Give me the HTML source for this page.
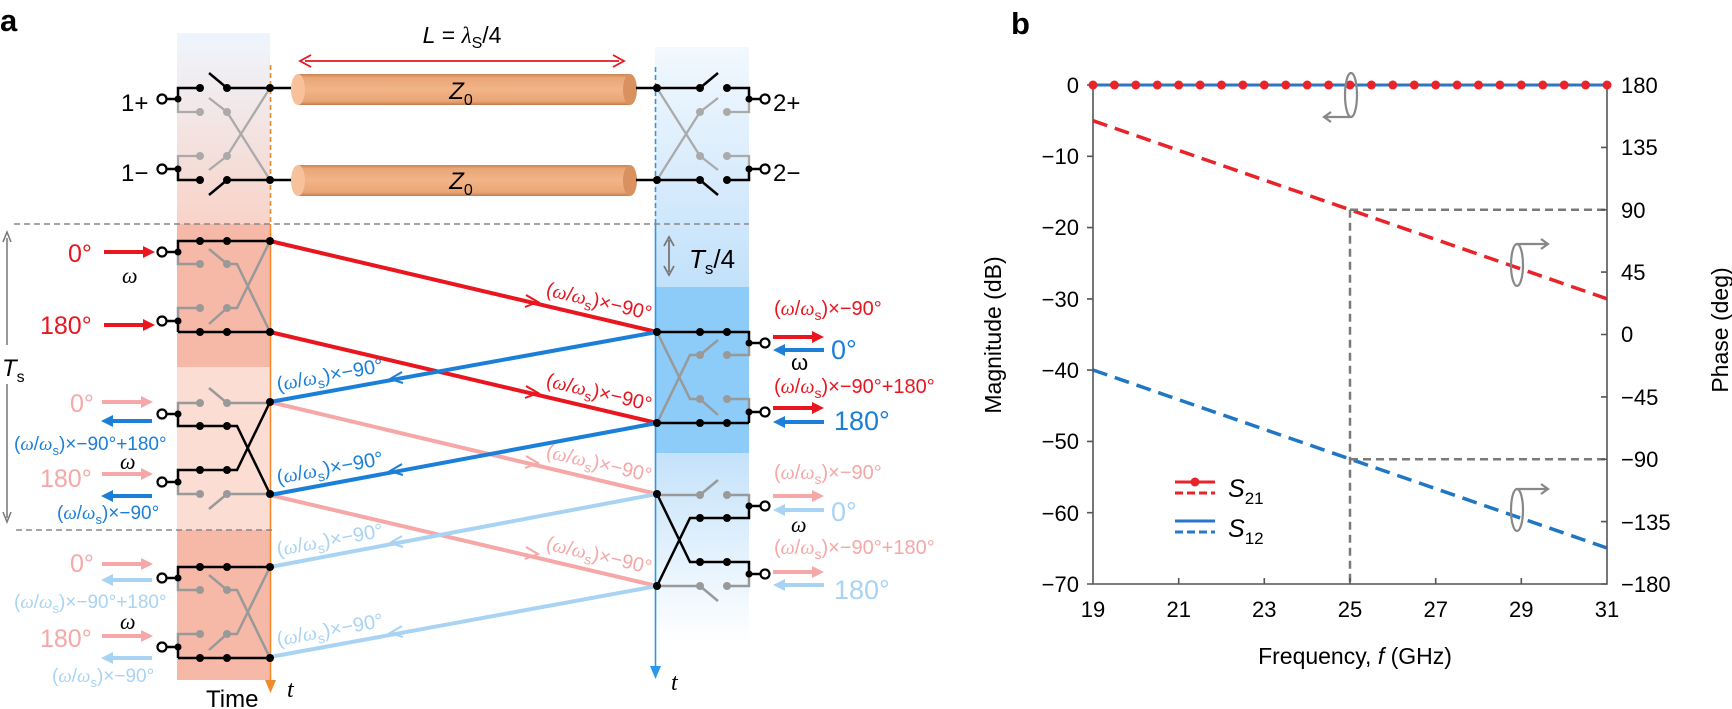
<!DOCTYPE html>
<html><head><meta charset="utf-8"><style>
html,body{margin:0;padding:0;background:#fff}
svg{display:block}
text{font-family:"Liberation Sans",sans-serif}
.w{font-family:"Liberation Serif",serif;font-style:italic}
</style></head><body>
<svg width="1732" height="709" viewBox="0 0 1732 709" xmlns="http://www.w3.org/2000/svg">
<defs>
<linearGradient id="gl" x1="0" y1="0" x2="0" y2="1"><stop offset="0" stop-color="#eef5fd"/><stop offset="1" stop-color="#f8d3c8"/></linearGradient>
<linearGradient id="gr1" x1="0" y1="0" x2="0" y2="1"><stop offset="0" stop-color="#f2f8fe"/><stop offset="1" stop-color="#c2e1fa"/></linearGradient>
<linearGradient id="gr2" x1="0" y1="0" x2="0" y2="1"><stop offset="0" stop-color="#c4e2fa"/><stop offset="1" stop-color="#ffffff"/></linearGradient>
<linearGradient id="cyl" x1="0" y1="0" x2="0" y2="1"><stop offset="0" stop-color="#c98456"/><stop offset="0.12" stop-color="#eaa677"/><stop offset="0.5" stop-color="#f2b487"/><stop offset="0.88" stop-color="#e9a574"/><stop offset="1" stop-color="#c07c50"/></linearGradient>
<g id="thr">
 <path d="M166,11H178V0H270M178,91V80H166M178,91H270" fill="none" stroke="#000" stroke-width="2.5"/>
 <path d="M178,11V23H200M209,8L227,23H237L270,91M178,80V67H200M209,83L227,67H237L270,0" fill="none" stroke="#999" stroke-width="2.5"/>
 <g fill="#999"><circle cx="200" cy="23" r="4"/><circle cx="227" cy="23" r="4"/><circle cx="200" cy="67" r="4"/><circle cx="227" cy="67" r="4"/></g>
 <g fill="#000"><circle cx="178" cy="11" r="3.5"/><circle cx="178" cy="80" r="3.5"/><circle cx="200" cy="0" r="4"/><circle cx="227" cy="0" r="4"/><circle cx="270" cy="0" r="4"/><circle cx="200" cy="91" r="4"/><circle cx="227" cy="91" r="4"/><circle cx="270" cy="91" r="4"/></g>
 <circle cx="162" cy="11" r="4.5" fill="#fff" stroke="#000" stroke-width="2.2"/><circle cx="162" cy="80" r="4.5" fill="#fff" stroke="#000" stroke-width="2.2"/>
</g>
<g id="crs">
 <path d="M166,12H178V24H237L270,92M166,80H178V68H237L270,0" fill="none" stroke="#000" stroke-width="2.5"/>
 <path d="M178,12V1H200M209,-14L227,1H270M178,80V92H200M209,107L227,92H270" fill="none" stroke="#999" stroke-width="2.5"/>
 <g fill="#999"><circle cx="200" cy="1" r="4"/><circle cx="227" cy="1" r="4"/><circle cx="200" cy="92" r="4"/><circle cx="227" cy="92" r="4"/></g>
 <g fill="#000"><circle cx="178" cy="12" r="3.5"/><circle cx="178" cy="80" r="3.5"/><circle cx="200" cy="24" r="4"/><circle cx="227" cy="24" r="4"/><circle cx="270" cy="0" r="4"/><circle cx="200" cy="68" r="4"/><circle cx="227" cy="68" r="4"/><circle cx="270" cy="92" r="4"/></g>
 <circle cx="162" cy="12" r="4.5" fill="#fff" stroke="#000" stroke-width="2.2"/><circle cx="162" cy="80" r="4.5" fill="#fff" stroke="#000" stroke-width="2.2"/>
</g>
<g id="top">
 <path d="M166,11H178V0H200M227,0L209,-15M227,0H291M166,81H178V92H200M227,92L209,107M227,92H291" fill="none" stroke="#000" stroke-width="2.5"/>
 <path d="M178,11V24H200M209,10L227,24L270,92M178,81V68H200M209,82L227,68L270,0" fill="none" stroke="#aaa" stroke-width="2.3"/>
 <g fill="#aaa"><circle cx="200" cy="24" r="4"/><circle cx="227" cy="24" r="4"/><circle cx="200" cy="68" r="4"/><circle cx="227" cy="68" r="4"/></g>
 <g fill="#000"><circle cx="178" cy="11" r="3.5"/><circle cx="178" cy="81" r="3.5"/><circle cx="200" cy="0" r="4"/><circle cx="227" cy="0" r="4"/><circle cx="270" cy="0" r="4"/><circle cx="200" cy="92" r="4"/><circle cx="227" cy="92" r="4"/><circle cx="270" cy="92" r="4"/></g>
 <circle cx="162" cy="11" r="4.5" fill="#fff" stroke="#000" stroke-width="2.2"/><circle cx="162" cy="81" r="4.5" fill="#fff" stroke="#000" stroke-width="2.2"/>
</g>
</defs>

<!-- ===== Panel a ===== -->
<text x="0" y="31" font-size="31" font-weight="bold">a</text>
<rect x="177" y="33" width="93" height="191" fill="url(#gl)"/>
<rect x="177" y="224" width="93" height="143" fill="#f6b9a7"/>
<rect x="177" y="367" width="93" height="163" fill="#fbddd4"/>
<rect x="177" y="530" width="93" height="150" fill="#f6b9a7"/>
<rect x="655" y="47" width="94" height="240" fill="url(#gr1)"/>
<rect x="655" y="287" width="94" height="166" fill="#8dcbf8"/>
<rect x="655" y="453" width="94" height="190" fill="url(#gr2)"/>

<text x="462" y="43" font-size="23" text-anchor="middle"><tspan font-style="italic">L</tspan> = <tspan class="w">λ</tspan><tspan font-size="16" dy="5">S</tspan><tspan dy="-5">/4</tspan></text>
<line x1="305" y1="61" x2="619" y2="61" stroke="#e8161f" stroke-width="1.8"/>
<path d="M311,55L300,61L311,67M613,55L624,61L613,67" fill="none" stroke="#e8161f" stroke-width="1.8"/>

<rect x="298" y="74" width="332" height="31" fill="url(#cyl)"/>
<ellipse cx="630" cy="89.5" rx="7" ry="15.5" fill="#d8915f"/>
<ellipse cx="298" cy="89.5" rx="7" ry="15.5" fill="#f6c19b"/>
<rect x="298" y="165" width="332" height="31" fill="url(#cyl)"/>
<ellipse cx="630" cy="180.5" rx="7" ry="15.5" fill="#d8915f"/>
<ellipse cx="298" cy="180.5" rx="7" ry="15.5" fill="#f6c19b"/>
<text x="461" y="99" font-size="24" text-anchor="middle"><tspan font-style="italic">Z</tspan><tspan font-size="16" dy="6">0</tspan></text>
<text x="461" y="189" font-size="24" text-anchor="middle"><tspan font-style="italic">Z</tspan><tspan font-size="16" dy="6">0</tspan></text>

<line x1="270.5" y1="65" x2="270.5" y2="224" stroke="#f08a2c" stroke-width="1.6" stroke-dasharray="5,3"/>
<line x1="270.5" y1="224" x2="270.5" y2="688" stroke="#f08a2c" stroke-width="1.6"/>
<path d="M265,680L270.5,693L276,680Z" fill="#f08a2c"/>
<line x1="655.5" y1="67" x2="655.5" y2="224" stroke="#2a98ee" stroke-width="1.6" stroke-dasharray="5,3"/>
<line x1="655.5" y1="224" x2="655.5" y2="674" stroke="#2a98ee" stroke-width="1.6"/>
<path d="M650,666L655.5,679L661,666Z" fill="#2a98ee"/>
<text x="287" y="697" font-size="24" class="w">t</text>
<text x="671" y="690" font-size="24" class="w">t</text>
<text x="206" y="707" font-size="24">Time</text>

<line x1="14" y1="224" x2="749" y2="224" stroke="#888" stroke-width="1.6" stroke-dasharray="6,4"/>
<line x1="16" y1="530" x2="272" y2="530" stroke="#888" stroke-width="1.6" stroke-dasharray="6,4"/>

<line x1="7" y1="238" x2="7" y2="345" stroke="#777" stroke-width="1.5"/>
<path d="M3,242L7,232L11,242" fill="none" stroke="#777" stroke-width="1.5"/>
<line x1="7" y1="384" x2="7" y2="518" stroke="#777" stroke-width="1.5"/>
<path d="M3,512L7,522L11,512" fill="none" stroke="#777" stroke-width="1.5"/>
<text x="2" y="376" font-size="24"><tspan font-style="italic">T</tspan><tspan font-size="16" dy="6">s</tspan></text>
<line x1="669" y1="240" x2="669" y2="272" stroke="#777" stroke-width="1.8"/>
<path d="M664,246L669,237L674,246M664,266L669,275L674,266" fill="none" stroke="#777" stroke-width="1.8"/>
<text x="689" y="268" font-size="26"><tspan font-style="italic">T</tspan><tspan font-size="17" dy="6">s</tspan><tspan dy="-6">/4</tspan></text>

<g stroke-width="4" fill="none">
 <line x1="270" y1="402" x2="657" y2="494" stroke="#f6a7a7"/>
 <line x1="270" y1="495" x2="657" y2="586" stroke="#f6a7a7"/>
 <line x1="657" y1="494" x2="270" y2="567" stroke="#a9d3f3"/>
 <line x1="657" y1="586" x2="270" y2="657" stroke="#a9d3f3"/>
 <line x1="270" y1="241" x2="657" y2="332" stroke="#e8161f"/>
 <line x1="270" y1="332" x2="657" y2="423" stroke="#e8161f"/>
 <line x1="657" y1="332" x2="270" y2="402" stroke="#1b7fd8"/>
 <line x1="657" y1="423" x2="270" y2="495" stroke="#1b7fd8"/>
</g>
<g stroke-width="2" fill="none">
 <path d="M526,295L538,302L525,307" stroke="#e8161f"/>
 <path d="M526,386L538,393L525,398" stroke="#e8161f"/>
 <path d="M526,456L538,463L525,468" stroke="#f6a7a7"/>
 <path d="M526,547L538,554L525,559" stroke="#f6a7a7"/>
 <path d="M402,372L390,379L403,383" stroke="#1b7fd8"/>
 <path d="M402,464L390,471L403,475" stroke="#1b7fd8"/>
 <path d="M402,536L390,543L403,547" stroke="#a9d3f3"/>
 <path d="M402,626L390,633L403,637" stroke="#a9d3f3"/>
</g>

<g font-size="20">
 <text x="650" y="320" text-anchor="end" fill="#e8161f" transform="rotate(13.3 650 320)">(<tspan class="w">ω</tspan>/<tspan class="w">ω</tspan><tspan font-size="14" dy="5">s</tspan><tspan dy="-5">)×−90°</tspan></text>
 <text x="650" y="411" text-anchor="end" fill="#e8161f" transform="rotate(13.3 650 411)">(<tspan class="w">ω</tspan>/<tspan class="w">ω</tspan><tspan font-size="14" dy="5">s</tspan><tspan dy="-5">)×−90°</tspan></text>
 <text x="650" y="482" text-anchor="end" fill="#f6a7a7" transform="rotate(13.3 650 482)">(<tspan class="w">ω</tspan>/<tspan class="w">ω</tspan><tspan font-size="14" dy="5">s</tspan><tspan dy="-5">)×−90°</tspan></text>
 <text x="650" y="574" text-anchor="end" fill="#f6a7a7" transform="rotate(13.3 650 574)">(<tspan class="w">ω</tspan>/<tspan class="w">ω</tspan><tspan font-size="14" dy="5">s</tspan><tspan dy="-5">)×−90°</tspan></text>
 <text x="278" y="391" fill="#1b7fd8" transform="rotate(-10.3 278 391)">(<tspan class="w">ω</tspan>/<tspan class="w">ω</tspan><tspan font-size="14" dy="5">s</tspan><tspan dy="-5">)×−90°</tspan></text>
 <text x="278" y="484" fill="#1b7fd8" transform="rotate(-10.3 278 484)">(<tspan class="w">ω</tspan>/<tspan class="w">ω</tspan><tspan font-size="14" dy="5">s</tspan><tspan dy="-5">)×−90°</tspan></text>
 <text x="278" y="556" fill="#a9d3f3" transform="rotate(-10.3 278 556)">(<tspan class="w">ω</tspan>/<tspan class="w">ω</tspan><tspan font-size="14" dy="5">s</tspan><tspan dy="-5">)×−90°</tspan></text>
 <text x="278" y="646" fill="#a9d3f3" transform="rotate(-10.3 278 646)">(<tspan class="w">ω</tspan>/<tspan class="w">ω</tspan><tspan font-size="14" dy="5">s</tspan><tspan dy="-5">)×−90°</tspan></text>
</g>

<!-- circuits -->
<g transform="translate(0,88)"><use href="#top"/></g>
<g transform="translate(927,88) scale(-1,1)"><use href="#top"/></g>
<g transform="translate(0,241)"><use href="#thr"/></g>
<g transform="translate(0,402)"><use href="#crs"/></g>
<g transform="translate(0,567)"><use href="#thr"/></g>
<g transform="translate(927,332) scale(-1,1)"><use href="#thr"/></g>
<g transform="translate(927,494) scale(-1,1)"><use href="#crs"/></g>
<text x="121" y="111" font-size="24">1+</text>
<text x="121" y="181" font-size="24">1−</text>
<text x="773" y="111" font-size="24">2+</text>
<text x="773" y="181" font-size="24">2−</text>

<g font-size="25">
 <text x="68" y="262" fill="#e8161f">0°</text>
 <text x="40" y="334" fill="#e8161f">180°</text>
 <text x="70" y="412" fill="#f6a7a7">0°</text>
 <text x="40" y="487" fill="#f6a7a7">180°</text>
 <text x="70" y="572" fill="#f6a7a7">0°</text>
 <text x="40" y="647" fill="#f6a7a7">180°</text>
</g>
<g font-size="19">
 <text x="122" y="283" font-size="22" class="w" fill="#000">ω</text>
 <text x="120" y="469" font-size="22" class="w" fill="#000">ω</text>
 <text x="120" y="629" font-size="22" class="w" fill="#000">ω</text>
 <text x="14" y="450" fill="#1b7fd8">(<tspan class="w">ω</tspan>/<tspan class="w">ω</tspan><tspan font-size="13" dy="5">s</tspan><tspan dy="-5">)×−90°+180°</tspan></text>
 <text x="57" y="519" fill="#1b7fd8">(<tspan class="w">ω</tspan>/<tspan class="w">ω</tspan><tspan font-size="13" dy="5">s</tspan><tspan dy="-5">)×−90°</tspan></text>
 <text x="14" y="608" fill="#a9d3f3">(<tspan class="w">ω</tspan>/<tspan class="w">ω</tspan><tspan font-size="13" dy="5">s</tspan><tspan dy="-5">)×−90°+180°</tspan></text>
 <text x="52" y="682" fill="#a9d3f3">(<tspan class="w">ω</tspan>/<tspan class="w">ω</tspan><tspan font-size="13" dy="5">s</tspan><tspan dy="-5">)×−90°</tspan></text>
</g>
<g stroke-width="4">
 <line x1="104" y1="252" x2="146" y2="252" stroke="#e8161f"/><path d="M155,252L143,246V258Z" fill="#e8161f"/>
 <line x1="104" y1="325" x2="146" y2="325" stroke="#e8161f"/><path d="M155,325L143,319V331Z" fill="#e8161f"/>
 <line x1="102" y1="402" x2="144" y2="402" stroke="#f6a7a7"/><path d="M153,402L141,396V408Z" fill="#f6a7a7"/>
 <line x1="110" y1="421" x2="152" y2="421" stroke="#1b7fd8"/><path d="M101,421L113,415V427Z" fill="#1b7fd8"/>
 <line x1="102" y1="474" x2="144" y2="474" stroke="#f6a7a7"/><path d="M153,474L141,468V480Z" fill="#f6a7a7"/>
 <line x1="110" y1="496" x2="152" y2="496" stroke="#1b7fd8"/><path d="M101,496L113,490V502Z" fill="#1b7fd8"/>
 <line x1="102" y1="564" x2="144" y2="564" stroke="#f6a7a7"/><path d="M153,564L141,558V570Z" fill="#f6a7a7"/>
 <line x1="110" y1="580" x2="152" y2="580" stroke="#a9d3f3"/><path d="M101,580L113,574V586Z" fill="#a9d3f3"/>
 <line x1="102" y1="636" x2="144" y2="636" stroke="#f6a7a7"/><path d="M153,636L141,630V642Z" fill="#f6a7a7"/>
 <line x1="110" y1="658" x2="152" y2="658" stroke="#a9d3f3"/><path d="M101,658L113,652V664Z" fill="#a9d3f3"/>
</g>
<g font-size="20">
 <text x="774" y="315" fill="#e8161f">(<tspan class="w">ω</tspan>/<tspan class="w">ω</tspan><tspan font-size="14" dy="5">s</tspan><tspan dy="-5">)×−90°</tspan></text>
 <text x="774" y="393" fill="#e8161f">(<tspan class="w">ω</tspan>/<tspan class="w">ω</tspan><tspan font-size="14" dy="5">s</tspan><tspan dy="-5">)×−90°+180°</tspan></text>
 <text x="774" y="479" fill="#f6a7a7">(<tspan class="w">ω</tspan>/<tspan class="w">ω</tspan><tspan font-size="14" dy="5">s</tspan><tspan dy="-5">)×−90°</tspan></text>
 <text x="774" y="554" fill="#f6a7a7">(<tspan class="w">ω</tspan>/<tspan class="w">ω</tspan><tspan font-size="14" dy="5">s</tspan><tspan dy="-5">)×−90°+180°</tspan></text>
 <text x="791" y="370" font-size="22">ω</text>
 <text x="791" y="532" font-size="22" class="w">ω</text>
</g>
<g font-size="27">
 <text x="831" y="359" fill="#1b7fd8">0°</text>
 <text x="834" y="430" fill="#1b7fd8">180°</text>
 <text x="831" y="521" fill="#a9d3f3">0°</text>
 <text x="834" y="599" fill="#a9d3f3">180°</text>
</g>
<g stroke-width="4">
 <line x1="773" y1="337" x2="815" y2="337" stroke="#e8161f"/><path d="M824,337L812,331V343Z" fill="#e8161f"/>
 <line x1="782" y1="350" x2="824" y2="350" stroke="#1b7fd8"/><path d="M773,350L785,344V356Z" fill="#1b7fd8"/>
 <line x1="773" y1="408" x2="815" y2="408" stroke="#e8161f"/><path d="M824,408L812,402V414Z" fill="#e8161f"/>
 <line x1="782" y1="422" x2="824" y2="422" stroke="#1b7fd8"/><path d="M773,422L785,416V428Z" fill="#1b7fd8"/>
 <line x1="773" y1="496" x2="815" y2="496" stroke="#f6a7a7"/><path d="M824,496L812,490V502Z" fill="#f6a7a7"/>
 <line x1="782" y1="510" x2="824" y2="510" stroke="#a9d3f3"/><path d="M773,510L785,504V516Z" fill="#a9d3f3"/>
 <line x1="773" y1="572" x2="815" y2="572" stroke="#f6a7a7"/><path d="M824,572L812,566V578Z" fill="#f6a7a7"/>
 <line x1="782" y1="585" x2="824" y2="585" stroke="#a9d3f3"/><path d="M773,585L785,579V591Z" fill="#a9d3f3"/>
</g>

<!-- ===== Panel b ===== -->
<text x="1011" y="34" font-size="31" font-weight="bold">b</text>
<line x1="1093" y1="120.7" x2="1607" y2="298.8" stroke="#e8232a" stroke-width="3.5" stroke-dasharray="15,8"/>
<line x1="1093" y1="370" x2="1607" y2="548" stroke="#1f77c4" stroke-width="3.5" stroke-dasharray="15,8"/>
<g stroke="#7a7a7a" stroke-width="2.5" stroke-dasharray="8,5">
 <line x1="1350" y1="209.75" x2="1607" y2="209.75"/>
 <line x1="1350" y1="459.25" x2="1607" y2="459.25"/>
 <line x1="1350" y1="209.75" x2="1350" y2="584"/>
</g>
<path d="M1093,85V584H1607V85" fill="none" stroke="#555" stroke-width="1.6"/>
<g stroke="#555" stroke-width="1.6">
 <path d="M1087,85H1093M1087,156.3H1093M1087,227.6H1093M1087,298.9H1093M1087,370.1H1093M1087,441.4H1093M1087,512.7H1093M1087,584H1093"/>
 <path d="M1601,85H1607M1601,147.4H1607M1601,209.75H1607M1601,272.1H1607M1601,334.5H1607M1601,396.9H1607M1601,459.25H1607M1601,521.6H1607M1601,584H1607"/>
 <path d="M1178.7,584V578M1264.3,584V578M1350,584V578M1435.7,584V578M1521.3,584V578"/>
</g>
<line x1="1093" y1="85" x2="1607" y2="85" stroke="#2a76c8" stroke-width="3"/>
<g fill="#e8232a">
<circle cx="1093" cy="85" r="4.5"/><circle cx="1114.4" cy="85" r="4.5"/><circle cx="1135.8" cy="85" r="4.5"/><circle cx="1157.3" cy="85" r="4.5"/><circle cx="1178.7" cy="85" r="4.5"/><circle cx="1200.1" cy="85" r="4.5"/><circle cx="1221.5" cy="85" r="4.5"/><circle cx="1242.9" cy="85" r="4.5"/><circle cx="1264.3" cy="85" r="4.5"/><circle cx="1285.8" cy="85" r="4.5"/><circle cx="1307.2" cy="85" r="4.5"/><circle cx="1328.6" cy="85" r="4.5"/><circle cx="1350" cy="85" r="4.5"/><circle cx="1371.4" cy="85" r="4.5"/><circle cx="1392.8" cy="85" r="4.5"/><circle cx="1414.3" cy="85" r="4.5"/><circle cx="1435.7" cy="85" r="4.5"/><circle cx="1457.1" cy="85" r="4.5"/><circle cx="1478.5" cy="85" r="4.5"/><circle cx="1499.9" cy="85" r="4.5"/><circle cx="1521.3" cy="85" r="4.5"/><circle cx="1542.8" cy="85" r="4.5"/><circle cx="1564.2" cy="85" r="4.5"/><circle cx="1585.6" cy="85" r="4.5"/><circle cx="1607" cy="85" r="4.5"/>
</g>
<g fill="none" stroke="#888" stroke-width="2.2">
 <ellipse cx="1351" cy="95" rx="6" ry="22"/>
 <path d="M1351,117H1325M1331,112L1324,117L1331,122"/>
 <ellipse cx="1517" cy="265" rx="6" ry="21"/>
 <path d="M1517,244H1547M1541,239L1548,244L1541,249"/>
 <ellipse cx="1517" cy="510" rx="6" ry="21"/>
 <path d="M1517,489H1547M1541,484L1548,489L1541,494"/>
</g>
<g font-size="22" text-anchor="end">
 <text x="1079" y="93">0</text><text x="1079" y="164">−10</text><text x="1079" y="235">−20</text><text x="1079" y="307">−30</text><text x="1079" y="378">−40</text><text x="1079" y="449">−50</text><text x="1079" y="521">−60</text><text x="1079" y="592">−70</text>
</g>
<g font-size="22">
 <text x="1621" y="93">180</text><text x="1621" y="155">135</text><text x="1621" y="218">90</text><text x="1621" y="280">45</text><text x="1621" y="342">0</text><text x="1621" y="405">−45</text><text x="1621" y="467">−90</text><text x="1621" y="530">−135</text><text x="1621" y="592">−180</text>
</g>
<g font-size="22" text-anchor="middle">
 <text x="1093" y="617">19</text><text x="1178.7" y="617">21</text><text x="1264.3" y="617">23</text><text x="1350" y="617">25</text><text x="1435.7" y="617">27</text><text x="1521.3" y="617">29</text><text x="1607" y="617">31</text>
</g>
<text x="1355" y="664" font-size="23" text-anchor="middle">Frequency, <tspan font-style="italic">f</tspan> (GHz)</text>
<text transform="translate(1001,335) rotate(-90)" font-size="23" text-anchor="middle">Magnitude (dB)</text>
<text transform="translate(1728,330) rotate(-90)" font-size="23" text-anchor="middle">Phase (deg)</text>
<line x1="1175" y1="482" x2="1215" y2="482" stroke="#e8232a" stroke-width="3"/>
<circle cx="1195" cy="482" r="4.5" fill="#e8232a"/>
<line x1="1175" y1="493" x2="1215" y2="493" stroke="#e8232a" stroke-width="3" stroke-dasharray="8,4"/>
<line x1="1175" y1="521" x2="1215" y2="521" stroke="#2a76c8" stroke-width="3"/>
<line x1="1175" y1="532" x2="1215" y2="532" stroke="#2a76c8" stroke-width="3" stroke-dasharray="8,4"/>
<text x="1228" y="497" font-size="25"><tspan font-style="italic">S</tspan><tspan font-size="17" dy="7">21</tspan></text>
<text x="1228" y="537" font-size="25"><tspan font-style="italic">S</tspan><tspan font-size="17" dy="7">12</tspan></text>
</svg>
</body></html>
